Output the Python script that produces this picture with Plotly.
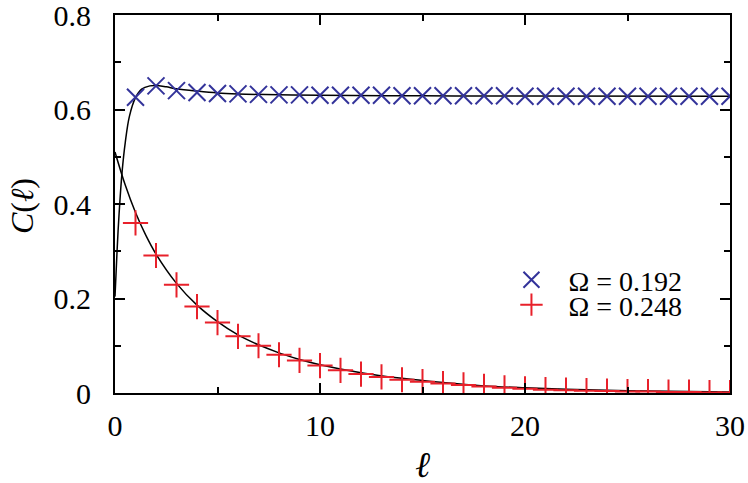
import plotly.graph_objects as go

# data
ell = list(range(1, 31))
c_omega_192 = [0.626, 0.650, 0.640, 0.636, 0.634, 0.633, 0.632, 0.631, 0.631, 0.630,
               0.630, 0.630, 0.630, 0.629, 0.629, 0.629, 0.629, 0.629, 0.629, 0.628,
               0.628, 0.628, 0.628, 0.628, 0.628, 0.628, 0.628, 0.628, 0.628, 0.628]
c_omega_248 = [0.360, 0.291, 0.229, 0.183, 0.149, 0.120, 0.100, 0.081, 0.069, 0.058,
               0.048, 0.040, 0.034, 0.028, 0.024, 0.020, 0.017, 0.014, 0.011, 0.009,
               0.007, 0.006, 0.005, 0.004, 0.003, 0.003, 0.002, 0.002, 0.001, 0.001]

# theory curves (black lines)
fit_x_192 = [0, 0.1, 0.2, 0.35, 0.5, 0.7, 1.0, 1.3, 1.7, 2.0, 2.5, 3, 4, 5, 6, 8, 10, 15, 20, 30]
fit_y_192 = [0.204, 0.30, 0.38, 0.47, 0.53, 0.585, 0.625, 0.643, 0.650, 0.651, 0.648,
             0.644, 0.639, 0.635, 0.633, 0.631, 0.630, 0.629, 0.6285, 0.628]
fit_x_248 = [0, 0.5, 1, 1.5, 2, 3, 4, 5, 6, 7, 8, 9, 10, 12, 14, 16, 18, 20, 22, 25, 28, 30]
fit_y_248 = [0.510, 0.440, 0.382, 0.334, 0.294, 0.232, 0.186, 0.151, 0.123, 0.102,
             0.085, 0.071, 0.060, 0.043, 0.031, 0.022, 0.015, 0.011, 0.008, 0.005, 0.003, 0.002]

x_ticks = [0, 10, 20, 30]
y_ticks = [0, 0.2, 0.4, 0.6, 0.8]
y_tick_labels = ["0", "0.2", "0.4", "0.6", "0.8"]

blue = "#33339a"
red = "#e8202a"
font_family = "Liberation Serif, DejaVu Serif, serif"

fig = go.Figure()

fig.add_trace(go.Scatter(x=fit_x_192, y=fit_y_192, mode="lines", line=dict(color="black", width=1.5),
                         line_shape="spline", showlegend=False, hoverinfo="skip"))
fig.add_trace(go.Scatter(x=fit_x_248, y=fit_y_248, mode="lines", line=dict(color="black", width=1.5),
                         line_shape="spline", showlegend=False, hoverinfo="skip"))

fig.add_trace(go.Scatter(
    x=ell, y=c_omega_192, mode="markers", name="Ω = 0.192", legend="legend",
    marker=dict(symbol="x-thin", size=17, color=blue, line=dict(color=blue, width=2))
))
fig.add_trace(go.Scatter(
    x=ell, y=c_omega_248, mode="markers", name="Ω = 0.248", legend="legend2",
    marker=dict(symbol="cross-thin", size=18, color=red, line=dict(color=red, width=2))
))

axis_common = dict(
    showgrid=False, zeroline=False, showline=True, linecolor="black", linewidth=2,
    mirror="ticks", ticks="inside", ticklen=10, tickwidth=1.5, tickcolor="black",
    tickfont=dict(size=30, family=font_family, color="black"), automargin=False,
    ticklabeloverflow="allow",
)

legend_common = dict(
    xanchor="left", yanchor="middle", bgcolor="rgba(0,0,0,0)",
    font=dict(size=28, family=font_family, color="black"), itemwidth=64,
)

fig.update_layout(
    width=748, height=483,
    margin=dict(l=115, r=18, t=15, b=90),
    plot_bgcolor="white", paper_bgcolor="white",
    font=dict(family=font_family, color="black"),
    xaxis=dict(
        range=[0, 30], tickvals=x_ticks, ticktext=[str(v) for v in x_ticks],
        minor=dict(tickvals=[5, 15, 25], ticks="inside", ticklen=6, tickwidth=1.5, tickcolor="black"),
        ticklabelstandoff=5,
        **axis_common
    ),
    yaxis=dict(
        range=[0, 0.8], tickvals=y_ticks, ticktext=y_tick_labels,
        minor=dict(tickvals=[0.1, 0.3, 0.5, 0.7], ticks="inside", ticklen=6, tickwidth=1.5, tickcolor="black"),
        ticklabelstandoff=16,
        **axis_common
    ),
    legend=dict(x=0.617, y=0.299, **legend_common),
    legend2=dict(x=0.617, y=0.233, **legend_common),
    annotations=[
        dict(text="<i>ℓ</i>", xref="paper", yref="paper", x=0.5, y=-0.19,
             xanchor="center", yanchor="middle", showarrow=False,
             font=dict(size=36, family=font_family, color="black")),
        dict(text="<i>C</i>(<i>ℓ</i>)", xref="paper", yref="paper", x=-0.151, y=0.495,
             xanchor="center", yanchor="middle", showarrow=False, textangle=-90,
             font=dict(size=32, family=font_family, color="black")),
    ],
)

# drop the page's default 8px body margin so the figure sits at the window origin
fig.write_html("out.html", config={"displayModeBar": False},
               post_script="document.body.style.margin = '0';")
